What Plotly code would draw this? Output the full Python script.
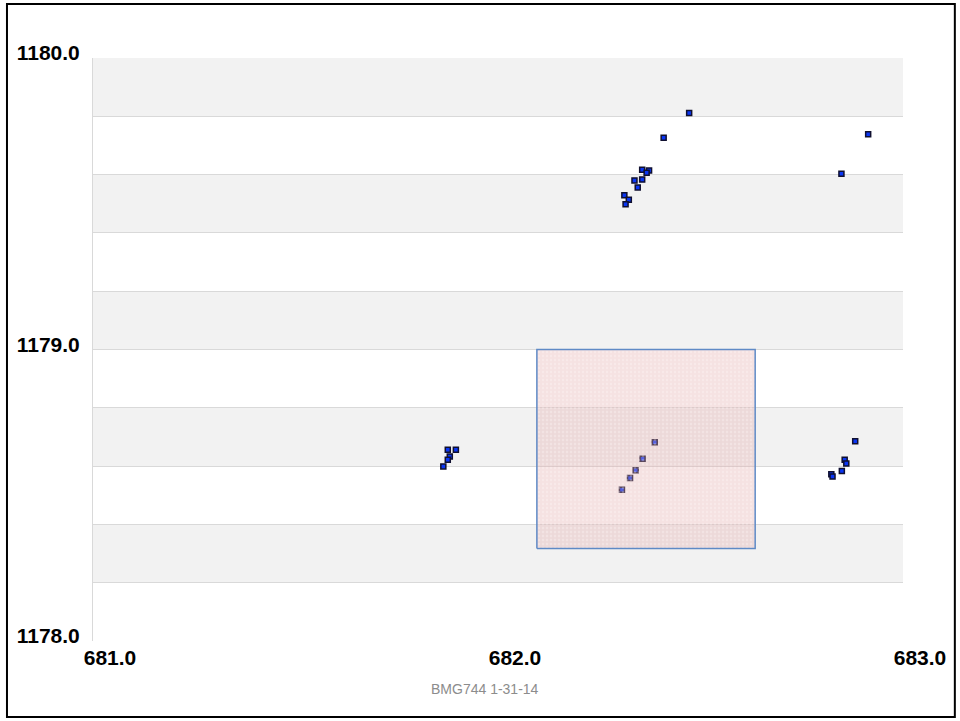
import plotly.graph_objects as go

# ---- data ----
x_vals = [682.472, 682.409, 682.914, 682.848, 682.356, 682.373, 682.367, 682.337,
          682.356, 682.345, 682.312, 682.323, 682.315,
          681.876, 681.896, 681.881, 681.876, 681.865,
          682.387, 682.357, 682.340, 682.326, 682.306,
          682.882, 682.856, 682.860, 682.849, 682.823, 682.826]
y_vals = [1179.811, 1179.726, 1179.738, 1179.603, 1179.617, 1179.614, 1179.606, 1179.580,
          1179.583, 1179.556, 1179.529, 1179.514, 1179.498,
          1178.656, 1178.656, 1178.633, 1178.622, 1178.599,
          1178.682, 1178.625, 1178.586, 1178.559, 1178.519,
          1178.685, 1178.622, 1178.609, 1178.583, 1178.572, 1178.564]

x_ticks = [681.0, 682.0, 683.0]
y_ticks = [1178.0, 1179.0, 1180.0]
x_tick_labels = ["681.0", "682.0", "683.0"]
y_tick_labels = ["1178.0", "1179.0", "1180.0"]
band_starts = [1179.8, 1179.4, 1179.0, 1178.6, 1178.2]   # shaded bands, each 0.2 tall
band_height = 0.2
highlight_x = [682.096, 682.635]
highlight_y = [1178.317, 1179.0]
footer_text = "BMG744 1-31-14"

fig = go.Figure()

fig.add_trace(go.Scatter(
    x=x_vals, y=y_vals, mode="markers",
    marker=dict(symbol="square", size=5, color="#0a36f5",
                line=dict(color="#101030", width=1.5)),
    showlegend=False, hoverinfo="skip"))

# highlighted rectangle, drawn over the markers
hx0, hx1 = highlight_x
hy0, hy1 = highlight_y
fig.add_trace(go.Scatter(
    x=[hx0, hx1, hx1, hx0, hx0], y=[hy0, hy0, hy1, hy1, hy0],
    mode="lines", fill="toself",
    fillcolor="rgba(226,170,170,0.36)",
    fillpattern=dict(shape=".", bgcolor="rgba(226,170,170,0.34)",
                     fgcolor="rgba(255,255,255,0.5)", size=4, solidity=0.3),
    line=dict(color="#5f8ac6", width=1.5),
    showlegend=False, hoverinfo="skip"))

shapes = []
for b in band_starts:
    shapes.append(dict(type="rect", xref="paper", yref="y", x0=0, x1=1,
                       y0=b, y1=b + band_height, fillcolor="#f2f2f2",
                       line=dict(width=0), layer="below"))
# outer border of the chart
shapes.append(dict(type="rect", xref="paper", yref="paper",
                   x0=-0.1062, x1=1.0640, y0=-0.1304, y1=1.0926,
                   line=dict(color="black", width=2), fillcolor="rgba(0,0,0,0)"))

tick_font = dict(family="Liberation Sans", size=21, color="black", weight="bold")

fig.update_layout(
    width=960, height=721,
    margin=dict(l=93, r=57, t=58, b=80),
    paper_bgcolor="white", plot_bgcolor="white",
    shapes=shapes,
    xaxis=dict(range=[681, 683], tickvals=x_ticks, ticktext=x_tick_labels,
               showgrid=False, zeroline=False, showline=False, ticks="",
               tickfont=tick_font, ticklabelshift=17, ticklabelstandoff=2,
               fixedrange=True),
    yaxis=dict(range=[1178, 1180], tickvals=y_ticks, ticktext=y_tick_labels,
               showgrid=True, gridcolor="#d9d9d9", gridwidth=1,
               minor=dict(dtick=0.2, tick0=1178, showgrid=True,
                          gridcolor="#d9d9d9", gridwidth=1),
               zeroline=False, showline=True, linecolor="#d9d9d9", linewidth=1,
               ticks="", tickfont=tick_font, ticklabelstandoff=8,
               ticklabelshift=-5, fixedrange=True),
    annotations=[dict(text=footer_text, xref="paper", yref="paper",
                      x=0.484, y=-0.0823, xanchor="center", yanchor="middle",
                      showarrow=False,
                      font=dict(family="Liberation Sans", size=14, color="#8c8c8c"))],
)

fig.write_html("out.html", config={"displayModeBar": False},
               post_script="document.body.style.margin='0px';document.body.style.overflow='hidden';")
